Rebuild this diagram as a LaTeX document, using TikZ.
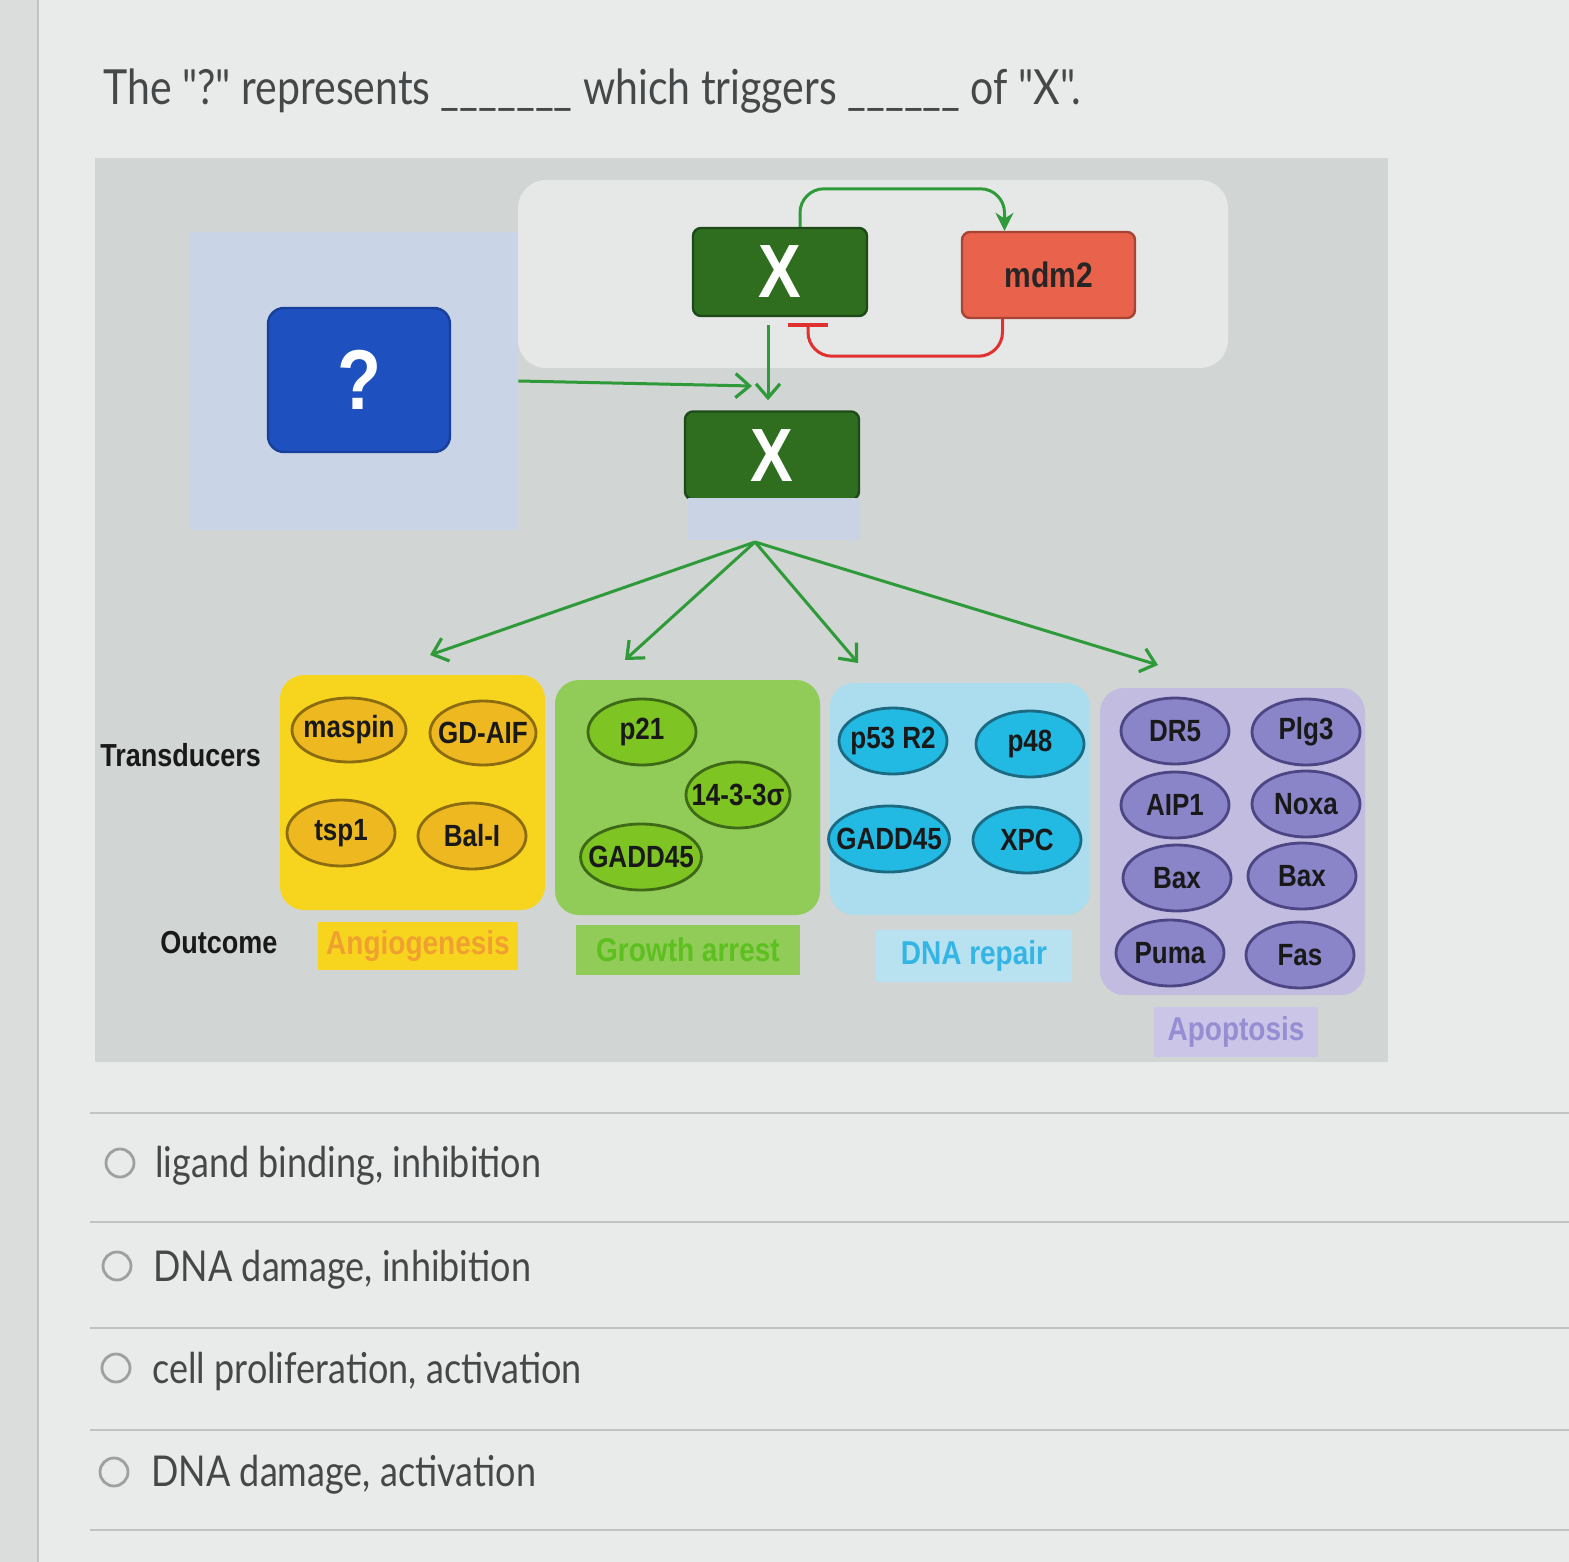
\documentclass[tikz,border=0pt]{standalone}
\usepackage{fontspec}
\usepackage{graphicx}
\newfontfamily\latofont{Lato}
\newfontfamily\diagfont{Liberation Sans}
\usetikzlibrary{shapes.geometric,arrows.meta,calc}
\newcommand\st[1]{\scalebox{1}[1.18]{#1}}
\definecolor{pagebg}{HTML}{E8EBE9}
\definecolor{leftstrip}{HTML}{DADDDB}
\definecolor{panelgray}{HTML}{D1D5D3}
\definecolor{qpanelc}{HTML}{C9D5E6}
\definecolor{toppanel}{HTML}{E5E8E7}
\definecolor{qblue}{HTML}{1E50C0}
\definecolor{xgreen}{HTML}{2F6E1F}
\definecolor{xgreenD}{HTML}{1E4A1A}
\definecolor{mdmred}{HTML}{E9624B}
\definecolor{mdmredD}{HTML}{A84434}
\definecolor{arrowgreen}{HTML}{2F9A3A}
\definecolor{inhred}{HTML}{E03030}
\definecolor{yelpanel}{HTML}{F7D51E}
\definecolor{yelell}{HTML}{EDB820}
\definecolor{yelbord}{HTML}{8C6C10}
\definecolor{yeltext}{HTML}{F0A030}
\definecolor{grnpanel}{HTML}{92CC58}
\definecolor{grnell}{HTML}{7EC423}
\definecolor{grnbord}{HTML}{3E6A18}
\definecolor{grntext}{HTML}{5EC020}
\definecolor{cyanpanel}{HTML}{ABDDEE}
\definecolor{cyanlab}{HTML}{B9E2F0}
\definecolor{cyanell}{HTML}{22B9E2}
\definecolor{cyanbord}{HTML}{1C6A82}
\definecolor{cyantext}{HTML}{35B5E5}
\definecolor{purpanel}{HTML}{C2BCE0}
\definecolor{purlab}{HTML}{CBC5E8}
\definecolor{purell}{HTML}{8A84C8}
\definecolor{purbord}{HTML}{4C4684}
\definecolor{purtext}{HTML}{958ED2}
\definecolor{textgray}{HTML}{454848}
\definecolor{rulegray}{HTML}{BFC3C3}
\definecolor{xsubc}{HTML}{C9D3E4}
\tikzset{
  bigbox/.style={rectangle, rounded corners=4pt, line width=1.2pt, inner sep=0pt},
  xbox/.style={bigbox, fill=xgreen, draw=xgreenD, minimum width=87pt, minimum height=44pt,
    text=white, font=\diagfont\bfseries\fontsize{32}{32}\selectfont},
  tell/.style={ellipse, line width=1.4pt, minimum width=54pt, minimum height=33pt, inner ysep=0pt, inner xsep=-5pt,
    text=black!90, font=\diagfont\bfseries\fontsize{13}{13}\selectfont},
  yell/.style={tell, fill=yelell, draw=yelbord},
  gell/.style={tell, fill=grnell, draw=grnbord},
  cell/.style={tell, fill=cyanell, draw=cyanbord},
  pell/.style={tell, fill=purell, draw=purbord},
  outlab/.style={rectangle, inner sep=0pt, font=\diagfont\bfseries\fontsize{14}{14}\selectfont},
  rowlab/.style={anchor=west, inner sep=0pt, text=black!90, font=\diagfont\bfseries\fontsize{13.5}{13.5}\selectfont},
  garrow/.style={draw=arrowgreen, line width=1.5pt, -{Straight Barb[length=7pt,width=12pt,line width=1.6pt]}},
  radio/.style={circle, draw=gray!75, line width=1.4pt, minimum size=14pt, inner sep=0pt},
  opt/.style={anchor=base west, inner sep=0pt, text=textgray, font=\latofont\fontsize{18}{18}\selectfont},
}
\begin{document}
\begin{tikzpicture}[x=0.5pt,y=-0.5pt]
\useasboundingbox (0,0) rectangle (1569,1562);
\fill[pagebg] (0,0) rectangle (1569,1562);
\fill[leftstrip] (0,0) rectangle (38,1562);
\draw[rulegray, line width=0.8pt] (38,0) -- (38,1562);

% question
\node[anchor=base west, inner sep=0pt, text=textgray, font=\latofont\fontsize{20.5}{20.5}\selectfont] (question) at (103,105)
  {\st{The "?" represents \_\_\_\_\_\_\_ which triggers \_\_\_\_\_\_ of "X".}};

% diagram background
\fill[panelgray] (95,158) rectangle (1388,1062);
\fill[toppanel, rounded corners=14pt] (518,180) rectangle (1228,368);
\node[fill=qpanelc, minimum width=164pt, minimum height=149pt, inner sep=0pt] (qpanel) at (354,381) {};
\node[bigbox, rounded corners=8pt, fill=qblue, draw=qblue!80!black, minimum width=91pt, minimum height=72pt,
  text=white, font=\diagfont\bfseries\fontsize{36}{36}\selectfont] (qbox) at (359,380) {\st{?}};

\node[xbox] (xtop) at (780,272) {\st{X}};
\node[bigbox, fill=mdmred, draw=mdmredD, minimum width=86.5pt, minimum height=43pt,
  text=black!85, font=\diagfont\bfseries\fontsize{15}{15}\selectfont] (mdm2) at (1048.5,275) {\st{mdm2}};
\node[xbox] (xbot) at (772,455.5) {\st{X}};
\node[fill=xsubc, minimum width=86pt, minimum height=21pt, inner sep=0pt] (xsub) at (774,519) {};

% top connectors
\draw[draw=arrowgreen, line width=1.5pt, rounded corners=12pt, -{Stealth[length=9pt,width=9pt]}]
  ([xshift=10pt]xtop.north) -- ++(0,-38) -| ([xshift=-22pt]mdm2.north);
\draw[draw=inhred, line width=1.5pt, rounded corners=12pt, -{Bar[width=20pt,line width=2pt]}]
  ([xshift=-23pt]mdm2.south) -- ++(0,37) -| ([xshift=14pt,yshift=-3pt]xtop.south);
\draw[garrow] ([xshift=-6pt,yshift=-4pt]xtop.south) -- ([xshift=-2pt,yshift=5pt]xbot.north);
\coordinate (qin) at (752,386);
\draw[garrow] (qpanel.east) -- (qin);

% fan-out arrows
\coordinate (hub) at (755,542);
\coordinate (ta) at (430,655);
\coordinate (tg) at (625,660);
\coordinate (td) at (858,663);
\coordinate (tp) at (1158,665);
\draw[garrow] (hub) -- (ta);
\draw[garrow] (hub) -- (tg);
\draw[garrow] (hub) -- (td);
\draw[garrow] (hub) -- (tp);

% transducer panels
\fill[yelpanel, rounded corners=12pt] (280,675) rectangle (545,910);
\fill[grnpanel, rounded corners=12pt] (555,680) rectangle (820,915);
\fill[cyanpanel, rounded corners=12pt] (830,683) rectangle (1090,915);
\fill[purpanel, rounded corners=12pt] (1100,688) rectangle (1365,995);

\node[yell, minimum width=57pt, minimum height=32pt] (maspin) at (349,730) {\st{maspin}};
\node[yell, minimum width=53pt, minimum height=32pt] (gdaif) at (483,733) {\st{GD-AIF}};
\node[yell, minimum width=54pt, minimum height=33pt] (tsp1) at (341,833) {\st{tsp1}};
\node[yell, minimum width=54pt, minimum height=33pt] (bali) at (472,836) {\st{Bal-I}};

\node[gell] (p21) at (642,732) {\st{p21}};
\node[gell, minimum width=52pt] (s1433) at (738,795) {\st{14-3-3σ}};
\node[gell, minimum width=52pt] (gaddg) at (641,857) {\st{GADD45}};

\node[cell] (p53r2) at (893,741) {\st{p53 R2}};
\node[cell] (p48) at (1030,744) {\st{p48}};
\node[cell] (gaddc) at (889,839) {\st{GADD45}};
\node[cell] (xpc) at (1027,840) {\st{XPC}};

\node[pell] (dr5) at (1175,731) {\st{DR5}};
\node[pell] (plg3) at (1306,732) {\st{Plg3}};
\node[pell] (aip1) at (1175,805) {\st{AIP1}};
\node[pell] (noxa) at (1306,804) {\st{Noxa}};
\node[pell] (baxa) at (1177,878) {\st{Bax}};
\node[pell] (baxb) at (1302,876) {\st{Bax}};
\node[pell] (puma) at (1170,953) {\st{Puma}};
\node[pell] (fas) at (1300,955) {\st{Fas}};

\node[rowlab] (transd) at (100,755) {\st{Transducers}};
\node[rowlab] (outc) at (160,943) {\st{Outcome}};

\node[outlab, fill=yelpanel, text=yeltext, minimum width=100pt, minimum height=24pt] (angio) at (418,946) {\st{Angiogenesis}};
\node[outlab, fill=grnpanel, text=grntext, minimum width=112pt, minimum height=25pt] (growth) at (688,950) {\st{Growth arrest}};
\node[outlab, fill=cyanlab, text=cyantext, minimum width=98pt, minimum height=26pt] (dnarep) at (974,956) {\st{DNA repair}};
\node[outlab, fill=purlab, text=purtext, minimum width=82pt, minimum height=25pt] (apop) at (1236,1032) {\st{Apoptosis}};

% answer options
\foreach \yy in {1113,1222,1328,1430,1530} \draw[rulegray, line width=1pt] (90,\yy) -- (1569,\yy);
\node[radio] (r1) at (120,1163) {};
\node[radio] (r2) at (117,1266) {};
\node[radio] (r3) at (116,1368) {};
\node[radio] (r4) at (114,1472) {};
\node[opt] (o1) at (155,1177) {\st{ligand binding, inhibition}};
\node[opt] (o2) at (153,1281) {\st{DNA damage, inhibition}};
\node[opt] (o3) at (152,1383) {\st{cell proliferation, activation}};
\node[opt] (o4) at (151,1486) {\st{DNA damage, activation}};
\end{tikzpicture}
\end{document}
